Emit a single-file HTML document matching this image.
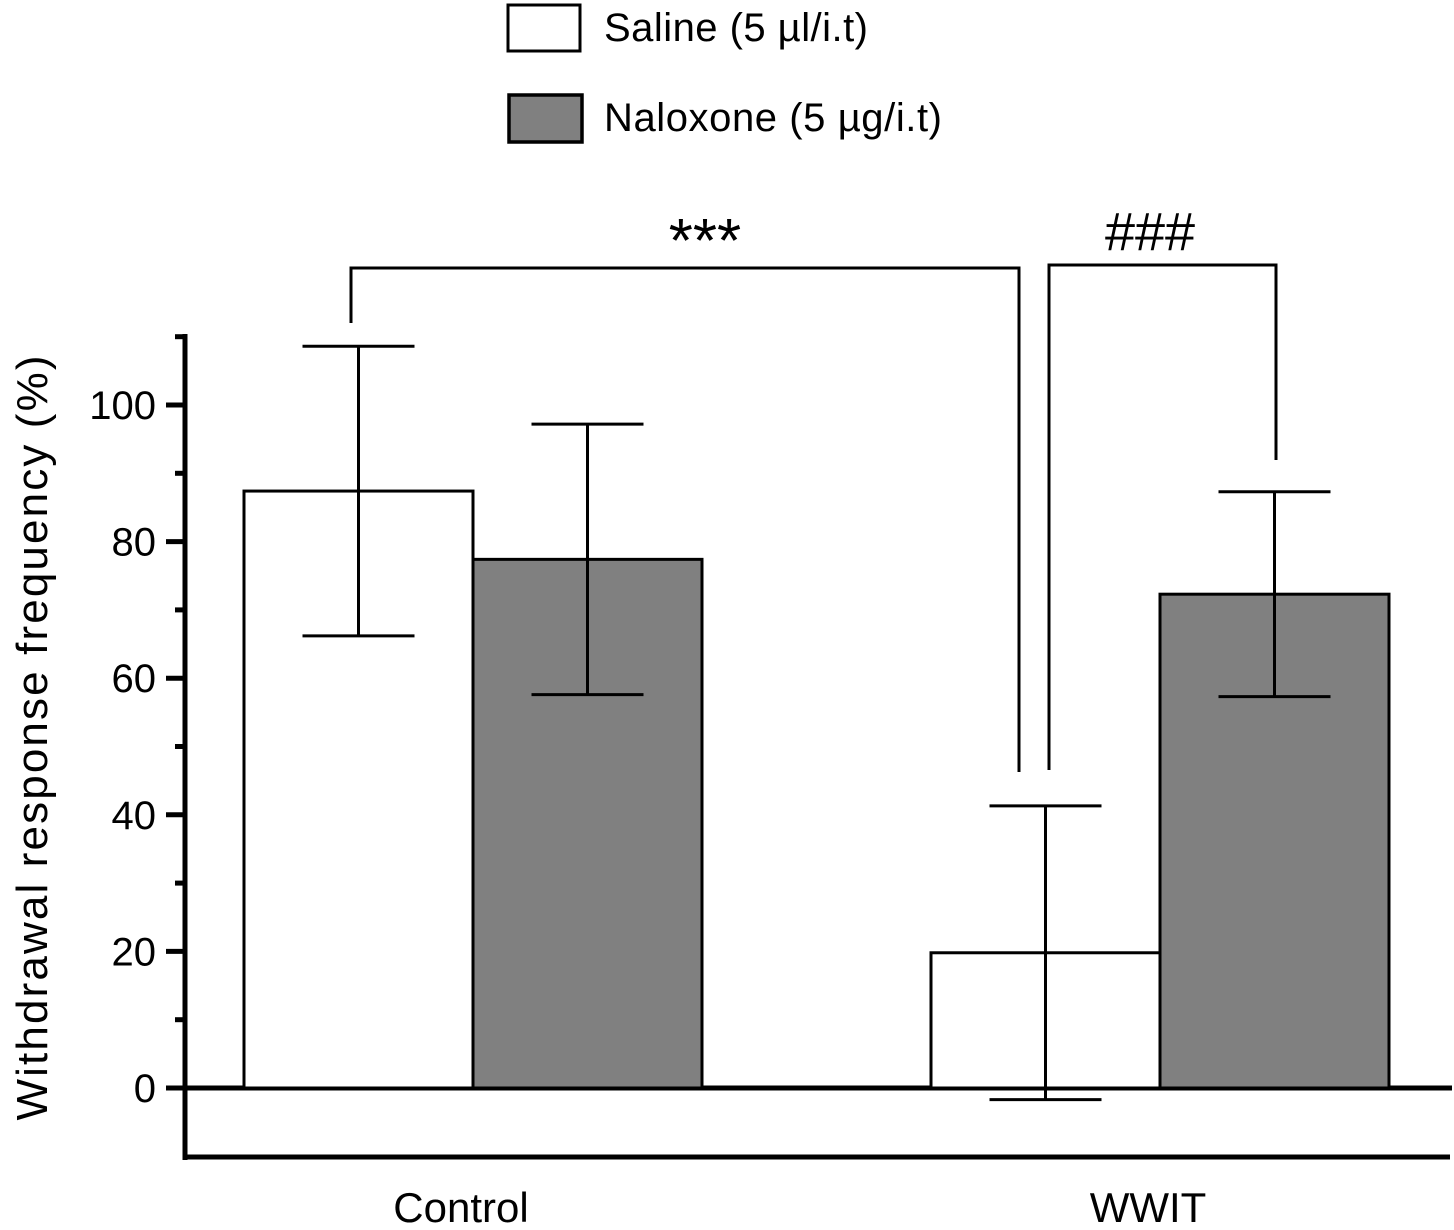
<!DOCTYPE html>
<html><head><meta charset="utf-8"><style>
html,body{margin:0;padding:0;background:#fff}
svg{display:block;font-family:"Liberation Sans",Arial,sans-serif}
</style></head><body>
<svg id="chart" width="1454" height="1230" viewBox="0 0 1454 1230">
  <g>
    <g>
      <rect x="508" y="5" width="72" height="46" fill="#fff" stroke="#000" stroke-width="3"/>
      <text x="604" y="41" font-size="40" textLength="264">Saline (5 µl/i.t)</text>
    </g>
    <g>
      <rect x="509" y="95" width="73" height="47" fill="#808080" stroke="#000" stroke-width="3.5"/>
      <text x="604" y="131" font-size="40" textLength="338">Naloxone (5 µg/i.t)</text>
    </g>
  </g>
  <g id="axes"></g>
  <g id="bars"></g>
  <g id="sig"></g>
  <text transform="translate(47,738) rotate(-90)" text-anchor="middle" font-size="44" textLength="765">Withdrawal response frequency (%)</text>
</svg>
<script>
const categories = ["Control", "WWIT"];
const salineValues = [87.4, 19.8];
const naloxoneValues = [77.4, 72.3];
const salineErrors = [21.2, 21.5];
const naloxoneErrors = [19.8, 15.0];
const yTicks = [0, 20, 40, 60, 80, 100];
const yMinorTicks = [10, 30, 50, 70, 90, 110];

const NS = "http://www.w3.org/2000/svg";
function y(v){ return 1088 - v * 6.83; }
const groupLeft = [244, 931];
const barW = 229;
function xBar(g, s){ return groupLeft[g] + s * barW; }
function mk(tag, attrs, parent){
  const e = document.createElementNS(NS, tag);
  for (const k in attrs) e.setAttribute(k, attrs[k]);
  parent.appendChild(e);
  return e;
}
const axes = document.getElementById('axes');
const bars = document.getElementById('bars');
const sig = document.getElementById('sig');

let ax = mk('line', {x1:185, y1:334, x2:185, y2:1160, stroke:'#000', 'stroke-width':5}, axes);


let bl = mk('line', {x1:183, y1:1157, x2:1450, y2:1157, stroke:'#000', 'stroke-width':5}, axes);


let zl = mk('line', {x1:166, y1:y(0), x2:1452, y2:y(0), stroke:'#000', 'stroke-width':5}, axes);


yTicks.forEach(t => {
  const l = mk('line', {x1:166, y1:y(t), x2:185, y2:y(t), stroke:'#000', 'stroke-width':5}, axes);
  
  
  const tx = mk('text', {x:156, y:y(t)+14, 'text-anchor':'end', 'font-size':40}, axes);
  tx.textContent = t;
  
  
});
yMinorTicks.forEach(t => {
  const l = mk('line', {x1:175, y1:y(t), x2:185, y2:y(t), stroke:'#000', 'stroke-width':5}, axes);
  
  
});
categories.forEach((c, g) => {
  const tx = mk('text', {x:groupLeft[g]+barW-12, y:1222, 'text-anchor':'middle', 'font-size':42}, axes);
  tx.textContent = c;
  
  
});

function drawBar(g, s, v, err, fill){
  const x0 = xBar(g, s);
  const r = mk('rect', {x:x0, y:y(v), width:barW, height:y(0)-y(v), fill:fill, stroke:'#000', 'stroke-width':3}, bars);
  
  
  const cx = x0 + barW/2;
  const eg = mk('g', {stroke:'#000', 'stroke-width':3}, bars);
  
  
  mk('line', {x1:cx, y1:y(v+err), x2:cx, y2:y(v-err)}, eg);
  mk('line', {x1:cx-56, y1:y(v+err), x2:cx+56, y2:y(v+err)}, eg);
  mk('line', {x1:cx-56, y1:y(v-err), x2:cx+56, y2:y(v-err)}, eg);
}
categories.forEach((c, g) => {
  drawBar(g, 0, salineValues[g], salineErrors[g], '#fff');
  drawBar(g, 1, naloxoneValues[g], naloxoneErrors[g], '#808080');
});

const b1 = mk('polyline', {points:`351,323 351,268 1019,268 1019,772`, fill:'none', stroke:'#000', 'stroke-width':3}, sig);


const b2 = mk('polyline', {points:`1049,770 1049,265 1276,265 1276,460`, fill:'none', stroke:'#000', 'stroke-width':3}, sig);


const s1 = mk('text', {x:705, y:262, 'text-anchor':'middle', 'font-size':62}, sig);
s1.textContent = '***';


const s2 = mk('text', {x:1150, y:250, 'text-anchor':'middle', 'font-size':54}, sig);
s2.textContent = '###';


</script>
</body></html>
